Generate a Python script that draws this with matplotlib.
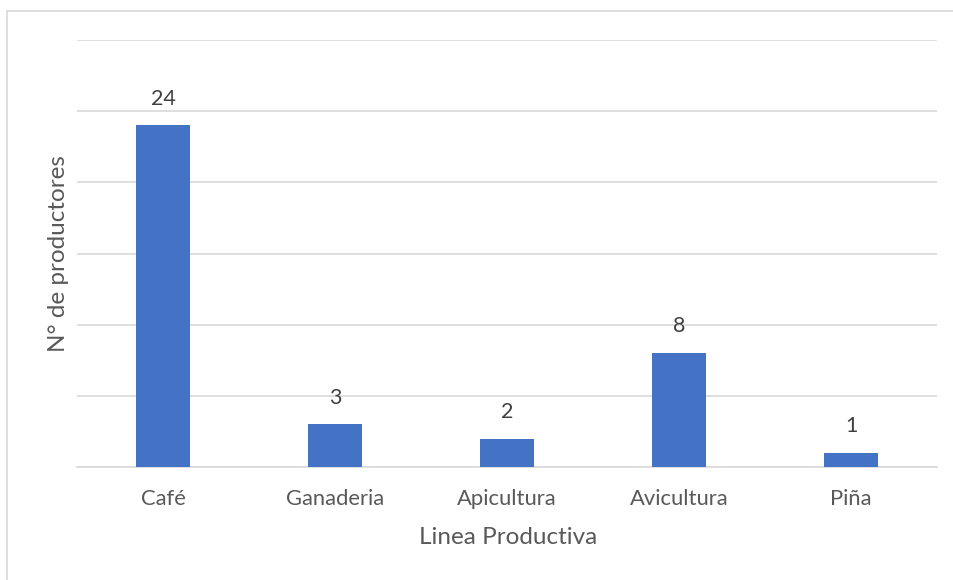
import matplotlib
matplotlib.use("Agg")
import matplotlib.pyplot as plt
from matplotlib.patches import Rectangle

categories = ["Café", "Ganaderia", "Apicultura", "Avicultura", "Piña"]
values = [24, 3, 2, 8, 1]
x_label = "Linea Productiva"
y_label = "N° de productores"

plt.rcParams['font.family'] = ['Lato', 'DejaVu Sans']
text_color = "#595959"

fig = plt.figure(figsize=(9.54, 5.8), dpi=100)
W, H = 954, 580
ax = fig.add_axes([77 / W, 1 - 467 / H, (937 - 77) / W, (467 - 40) / H])

xs = range(len(categories))
bars = ax.bar(xs, values, width=0.31, color="#4472c4", zorder=3)
ax.set_xlim(-0.5, len(categories) - 0.5)
ax.set_ylim(0, 30)
ax.set_yticks(range(0, 31, 5))
ax.yaxis.grid(True, color="#d9d9d9", linewidth=1.2, zorder=0)
ax.tick_params(axis="y", left=False, labelleft=False)
ax.tick_params(axis="x", bottom=False, colors=text_color, labelsize=15.8, pad=12)
ax.set_xticks(list(xs))
ax.set_xticklabels(categories)
for s in ["top", "right", "left"]:
    ax.spines[s].set_visible(False)
ax.spines["bottom"].set_color("#d9d9d9")
ax.spines["bottom"].set_linewidth(1.2)

for b, v in zip(bars, values):
    ax.annotate(str(v), (b.get_x() + b.get_width() / 2, v), xytext=(0, 12),
                textcoords="offset points", ha="center", va="bottom",
                fontsize=15.5, color="#404040")

fig.text(508 / W, 1 - 537 / H, x_label, ha="center", va="center",
         fontsize=17.5, color=text_color)
fig.text(59 / W, 1 - 254 / H, y_label, ha="center", va="center",
         rotation=90, fontsize=17.5, color=text_color)

fig.patches.append(Rectangle((7.5 / W, -0.1), 1.2, 1 - 10.5 / H + 0.1,
                             transform=fig.transFigure, fill=False,
                             edgecolor="#d9d9d9", linewidth=1.2))

fig.savefig("out.png", dpi=100)
